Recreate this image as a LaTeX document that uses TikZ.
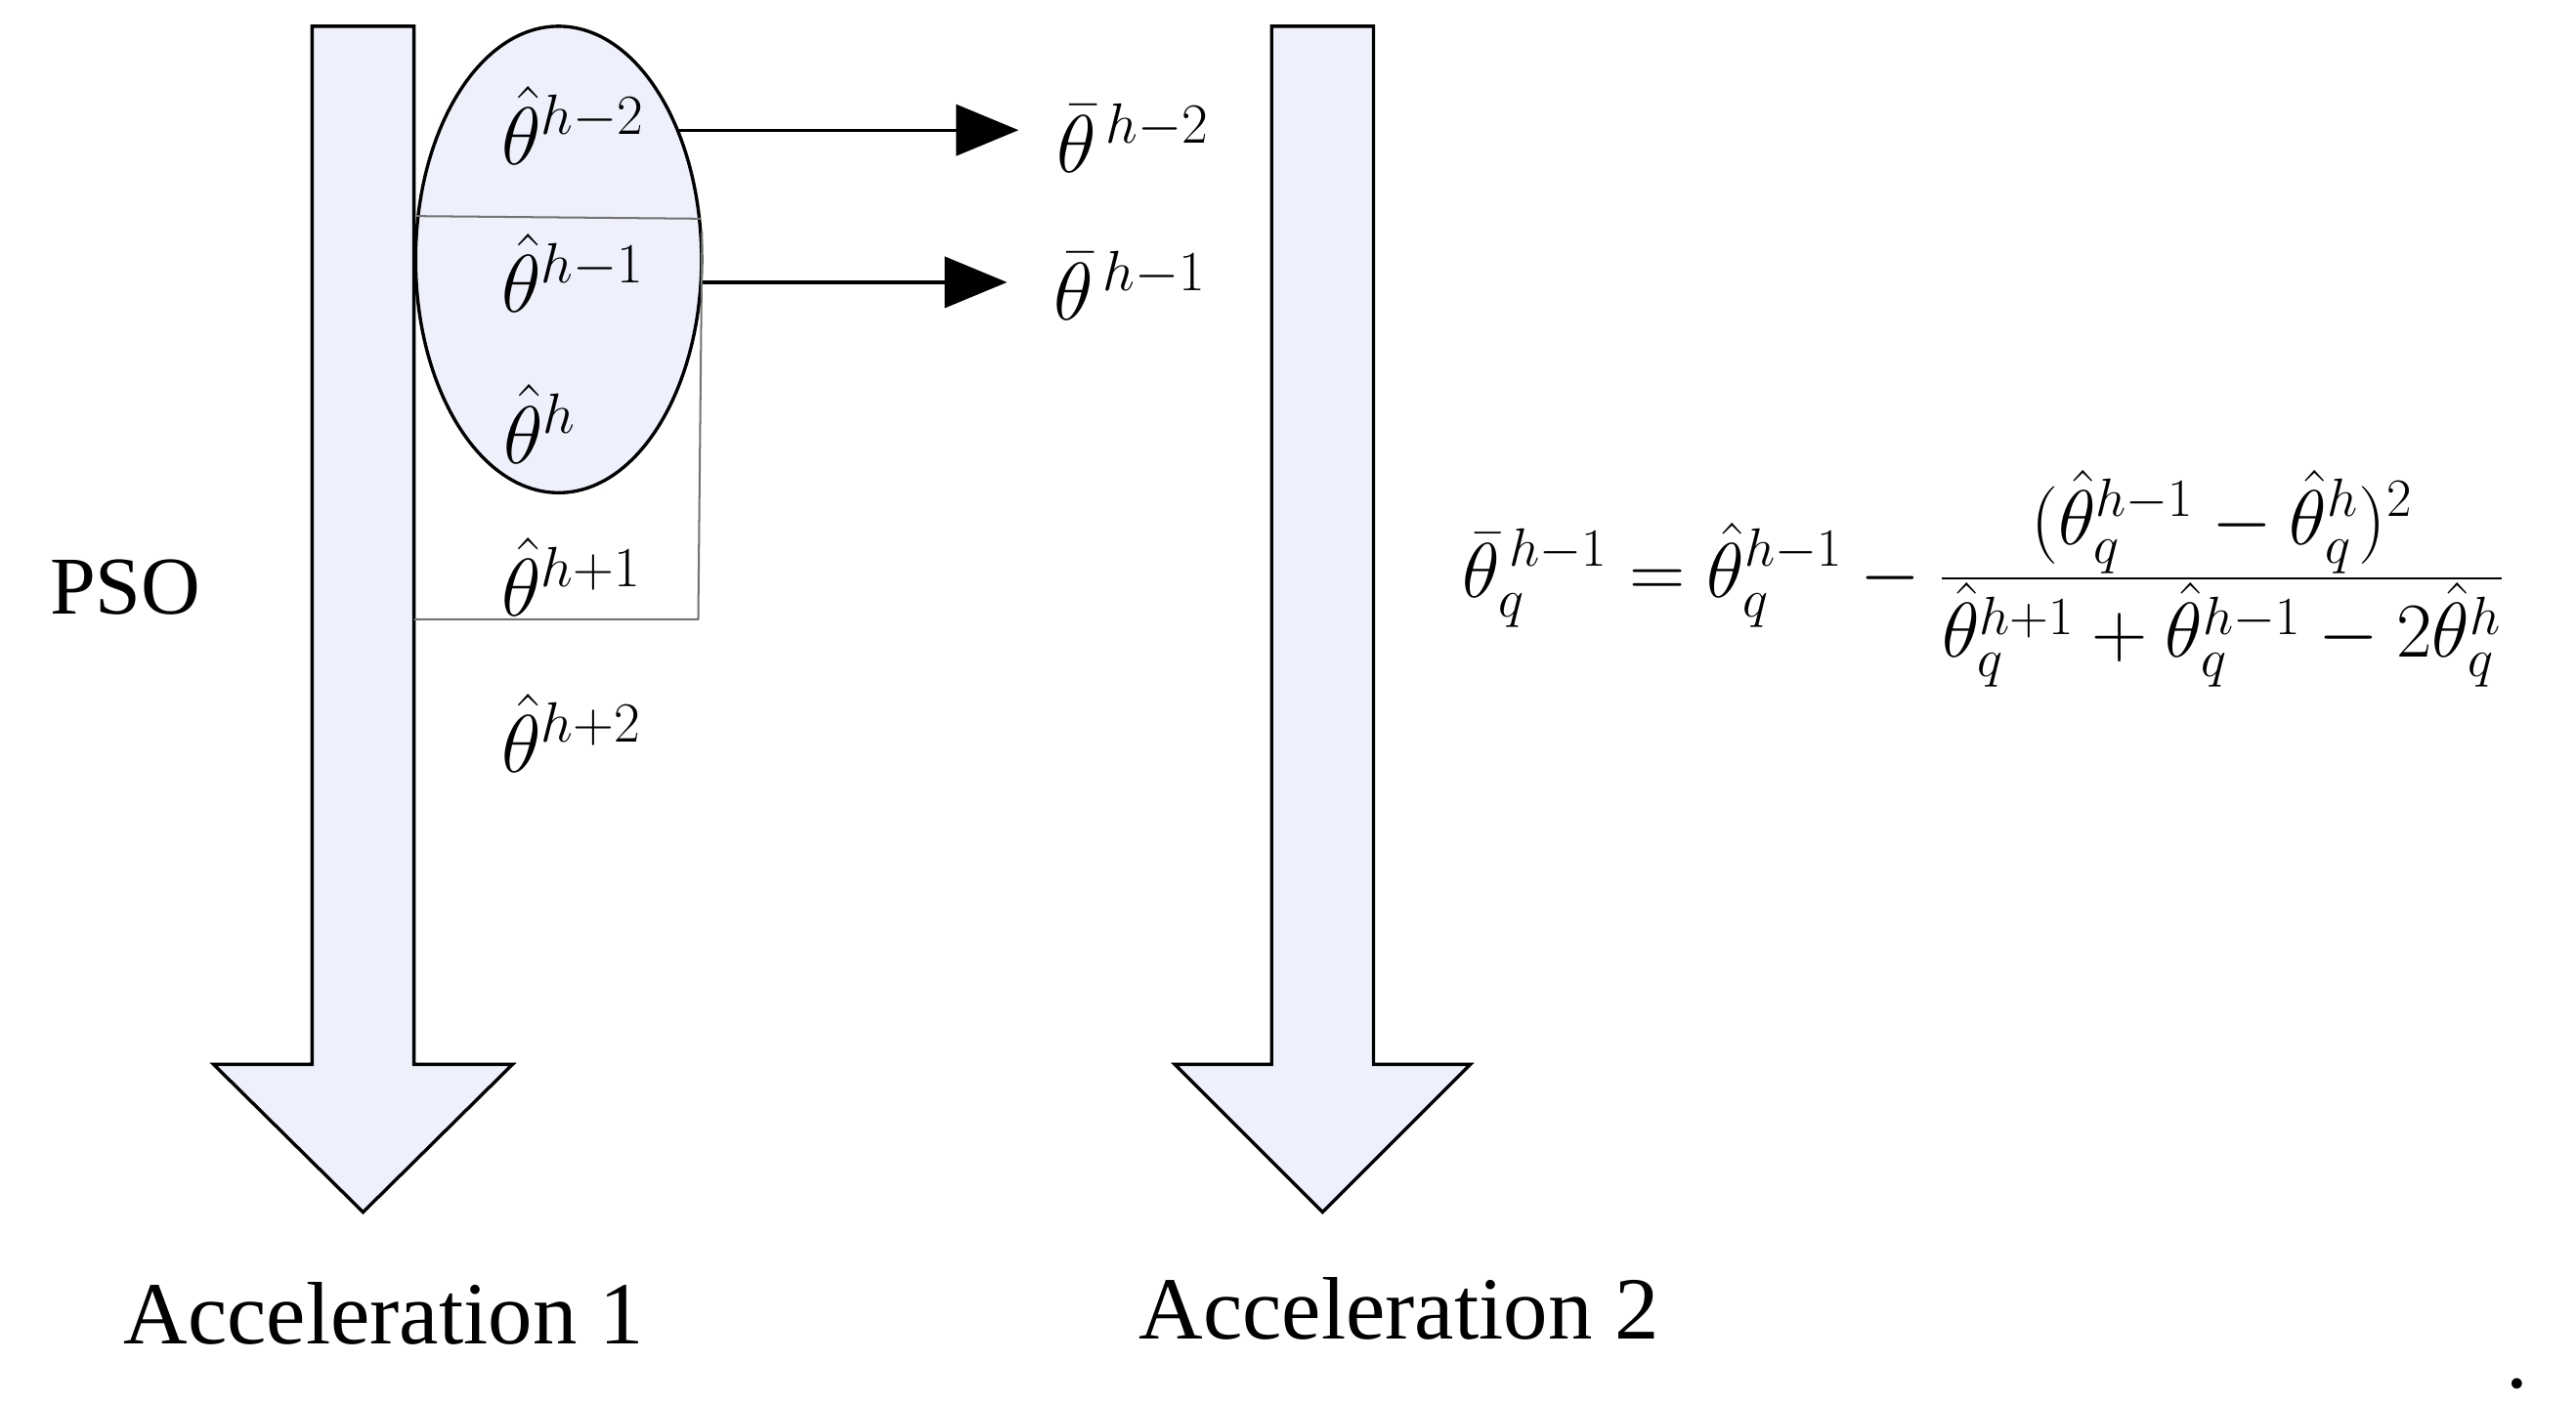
\documentclass[tikz,border=0pt]{standalone}
\usepackage{fontspec}
\setmainfont{Liberation Serif}
\usetikzlibrary{shapes.geometric,arrows.meta}
\definecolor{arrowfill}{RGB}{238,241,251}
\begin{document}
\begin{tikzpicture}[x=0.5pt,y=-0.5pt,
  bigarrow/.style={draw=black,fill=arrowfill,line width=1pt,line join=miter},
  thinline/.style={draw=black!55,line width=0.6pt},
  lbl/.style={anchor=base west,inner sep=0pt,font=\fontsize{26}{30}\selectfont},
  txt/.style={anchor=base west,inner sep=0pt,font=\fontsize{27}{32}\selectfont},
  conn/.style={line width=1pt,-{Triangle[length=19pt,width=15.5pt]}}]
\useasboundingbox (0,0) rectangle (1568,854);
% big down arrows
\path[bigarrow] (190,16) -- (252,16) -- (252,648) -- (312,648) -- (221,738) -- (130,648) -- (190,648) -- cycle;
\path[bigarrow] (774,16) -- (836,16) -- (836,648) -- (895,648) -- (805,738) -- (715,648) -- (774,648) -- cycle;
% ellipse
\node[draw,ellipse,fill=arrowfill,minimum width=87pt,minimum height=142pt,inner sep=0pt,line width=1pt] (ell) at (340,158) {};
\draw[thinline] (ell.163.1) -- (ell.16.9);
\coordinate (rc) at (425,377);
\coordinate (lc) at (252,377);
\draw[thinline] (ell.11) -- (rc) -- (lc);
% labels
\node[lbl] (h2) at (305,100) {$\hat\theta^{h-2}$};
\node[lbl] (h1) at (305,190) {$\hat\theta^{h-1}$};
\node[lbl] (h0) at (306,282) {$\hat\theta^{h}$};
\node[lbl] (hp1) at (305,375) {$\hat\theta^{h+1}$};
\node[lbl] (hp2) at (305,470) {$\hat\theta^{h+2}$};
\node[lbl] (b2) at (643,105) {$\bar\theta^{\,h-2}$};
\node[lbl] (b1) at (641,195) {$\bar\theta^{\,h-1}$};
% connectors
\coordinate (e2) at (620,80);
\coordinate (e1) at (613,172);
\draw[conn] (ell.47) -- (ell.47 -| e2);
\draw[conn] (ell.-9.2) -- (ell.-9.2 -| e1);
% texts
\node[anchor=base west,inner sep=0pt,font=\fontsize{25}{30}\selectfont] (pso) at (30,374) {PSO};
\node[txt] (acc1) at (75,818) {Acceleration 1};
\node[txt] (acc2) at (693,815) {Acceleration 2};
\node[anchor=base west,inner sep=0pt,font=\fontsize{26}{30}\selectfont] (formula) at (890,364) {\scalebox{0.95}{$\displaystyle \bar\theta_q^{\,h-1}=\hat\theta_q^{h-1}-\frac{(\hat\theta_q^{h-1}-\hat\theta_q^{h})^2}{\hat\theta_q^{h+1}+\hat\theta_q^{h-1}-2\hat\theta_q^{h}}$}};
\node[anchor=base west,inner sep=0pt,font=\fontsize{27}{32}\selectfont] (dot) at (1525,845) {.};
\end{tikzpicture}
\end{document}
